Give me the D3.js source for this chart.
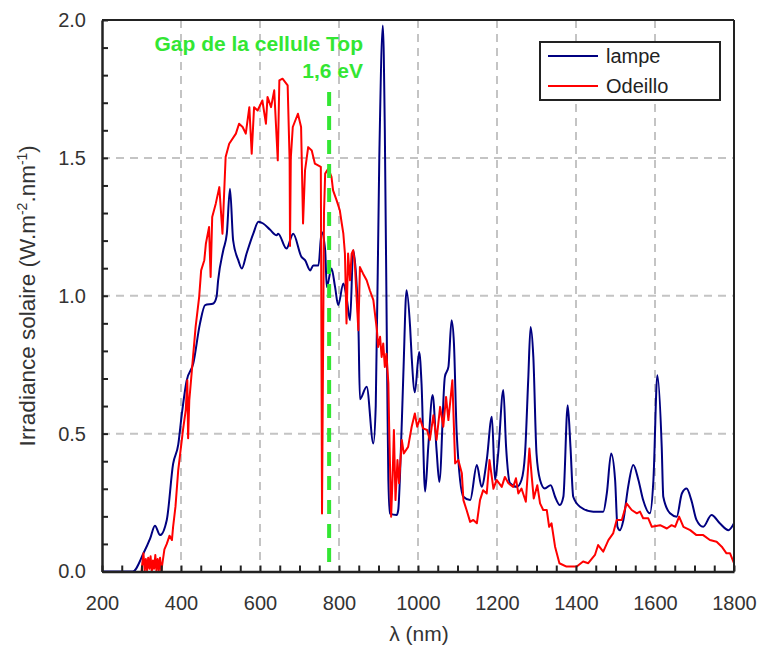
<!DOCTYPE html>
<html>
<head>
<meta charset="utf-8">
<script src="https://cdn.jsdelivr.net/npm/d3@7"></script>
<style>
  body { margin: 0; background: #fff; }
  svg text { font-family: "Liberation Sans", Arial, sans-serif; }
</style>
</head>
<body>
<svg id="chart" width="762" height="647"></svg>
<script>
// spectre de la lampe [nm, W.m-2.nm-1]
const lampe = [
  [200,0],[278,0],[305,0.066],[322,0.12],[334,0.166],[347,0.132],[364,0.187],[380,0.39],[393,0.46],
  [402,0.57],[414,0.69],[431,0.754],[448,0.899],[461,0.966],[482,0.972],[490,0.996],[494,1.056],
  [507,1.165],[516,1.225],[524,1.388],[532,1.201],[545,1.129],[554,1.099],[566,1.153],[583,1.225],
  [596,1.268],[608,1.262],[625,1.24],[642,1.219],[646,1.225],[667,1.171],[684,1.225],[705,1.141],
  [714,1.129],[727,1.092],[735,1.11],[748,1.11],[756,1.231],[765,1.165],[769,1.032],[781,1.099],
  [790,1.032],[798,0.966],[811,1.044],[819,0.996],[828,0.911],[836,1.165],[849,0.899],[853,0.625],
  [870,0.67],[887,0.464],[893,0.6],[902,1.5],[911,1.98],[916,1.6],[922,0.7],[925,0.33],[929,0.21],
  [946,0.205],[950,0.223],[954,0.331],[963,0.72],[971,1.02],[980,0.887],[984,0.778],[992,0.65],
  [1003,0.796],[1009,0.68],[1018,0.29],[1026,0.452],[1037,0.64],[1047,0.44],[1054,0.325],[1068,0.706],
  [1077,0.742],[1085,0.911],[1091,0.827],[1098,0.5],[1115,0.271],[1132,0.259],[1149,0.386],[1161,0.307],
  [1174,0.404],[1187,0.561],[1195,0.332],[1203,0.428],[1216,0.658],[1223,0.452],[1233,0.32],[1250,0.307],
  [1262,0.332],[1271,0.428],[1279,0.694],[1285,0.887],[1292,0.778],[1300,0.428],[1309,0.332],[1321,0.301],
  [1336,0.313],[1347,0.271],[1359,0.241],[1368,0.271],[1379,0.603],[1386,0.452],[1393,0.271],[1410,0.235],
  [1444,0.217],[1469,0.217],[1478,0.283],[1489,0.428],[1499,0.332],[1505,0.162],[1511,0.15],[1520,0.187],
  [1532,0.307],[1545,0.386],[1558,0.332],[1570,0.259],[1587,0.211],[1596,0.332],[1606,0.712],[1617,0.452],
  [1621,0.271],[1638,0.211],[1655,0.199],[1668,0.283],[1680,0.301],[1692,0.259],[1705,0.187],[1722,0.162],
  [1743,0.205],[1764,0.175],[1786,0.15],[1800,0.175]
];

// spectre solaire mesuré à Odeillo
const odeillo = [
  [300,0],[302,0.03],[305,0.066],[308,0],[311,0.045],[314,0.005],[317,0.05],[320,0.01],[323,0.055],
  [326,0],[329,0.04],[332,0.01],[335,0.06],[338,0],[341,0.045],[344,0.005],[347,0.05],[350,0],
  [354,0.04],[358,0.08],[364,0.1],[371,0.13],[377,0.114],[380,0.162],[386,0.235],[393,0.368],[397,0.416],
  [405,0.513],[412,0.585],[416,0.694],[418,0.483],[421,0.62],[429,0.754],[437,0.887],[446,0.996],
  [451,1.092],[459,1.129],[463,1.189],[471,1.249],[475,1.068],[479,1.286],[488,1.334],[497,1.394],
  [505,1.225],[513,1.503],[522,1.551],[539,1.588],[547,1.624],[556,1.612],[564,1.588],[573,1.684],
  [579,1.515],[585,1.684],[594,1.672],[606,1.708],[615,1.624],[619,1.721],[628,1.684],[636,1.745],
  [645,1.491],[649,1.781],[657,1.787],[670,1.763],[675,1.49],[676,1.18],[678,1.5],[683,1.612],
  [696,1.66],[704,1.612],[709,1.262],[714,1.455],[722,1.539],[731,1.527],[739,1.479],[754,1.467],
  [757,0.21],[762,1.3],[765,1.443],[773,1.461],[781,1.431],[785,1.382],[794,1.346],[802,1.31],
  [807,1.262],[811,1.225],[815,1.153],[819,0.899],[823,1.153],[828,1.056],[832,1.153],[836,1.165],
  [840,1.117],[849,0.875],[853,1.104],[861,1.08],[870,1.056],[878,1.02],[887,0.984],[891,0.935],
  [896,0.875],[899,0.814],[904,0.851],[908,0.778],[912,0.827],[916,0.742],[920,0.79],[925,0.682],
  [927,0.525],[932,0.199],[936,0.356],[939,0.513],[943,0.259],[948,0.404],[952,0.32],[959,0.477],
  [964,0.428],[975,0.452],[984,0.525],[992,0.573],[998,0.525],[1005,0.555],[1013,0.519],[1023,0.513],
  [1030,0.477],[1039,0.567],[1047,0.477],[1056,0.597],[1064,0.525],[1071,0.633],[1077,0.549],[1087,0.694],
  [1094,0.392],[1102,0.404],[1111,0.356],[1115,0.259],[1123,0.223],[1132,0.18],[1140,0.187],[1149,0.175],
  [1157,0.259],[1165,0.295],[1174,0.283],[1181,0.404],[1191,0.3],[1199,0.332],[1212,0.307],[1220,0.343],
  [1229,0.32],[1241,0.307],[1248,0.338],[1254,0.283],[1262,0.301],[1273,0.253],[1282,0.446],[1288,0.343],
  [1293,0.265],[1302,0.313],[1309,0.247],[1317,0.223],[1326,0.223],[1332,0.162],[1338,0.175],[1347,0.09],
  [1358,0.03],[1376,0.018],[1402,0.018],[1418,0.036],[1431,0.03],[1448,0.06],[1456,0.096],[1469,0.072],
  [1482,0.114],[1494,0.138],[1503,0.187],[1516,0.187],[1528,0.247],[1541,0.223],[1554,0.211],[1562,0.217],
  [1570,0.193],[1583,0.193],[1592,0.162],[1613,0.168],[1630,0.156],[1642,0.168],[1651,0.162],[1661,0.199],
  [1672,0.162],[1689,0.15],[1705,0.132],[1722,0.132],[1739,0.114],[1756,0.108],[1769,0.09],[1781,0.066],
  [1790,0.066],[1800,0.03]
];

const xTicks = d3.range(200, 1801, 50);
const xLabels = [200, 400, 600, 800, 1000, 1200, 1400, 1600, 1800];
const yTicks = d3.range(0, 2.001, 0.1);
const yLabels = [0, 0.5, 1.0, 1.5, 2.0];
const gapNm = 775; // 1,6 eV
const series = ["lampe", "Odeillo"];
const colors = ["#000080", "#ff0000"];

const svg = d3.select("#chart");
const m = { left: 102, right: 734, top: 20, bottom: 571.5 };
const x = d3.scaleLinear().domain([200, 1800]).range([m.left, m.right]);
const y = d3.scaleLinear().domain([0, 2]).range([m.bottom, m.top]);

// grille
svg.append("g").selectAll("line")
  .data(xLabels.filter(d => d > 200 && d < 1800))
  .join("line")
    .attr("x1", d => x(d)).attr("x2", d => x(d))
    .attr("y1", m.top).attr("y2", m.bottom)
    .attr("stroke", "#c4c4c4").attr("stroke-width", 2).attr("stroke-dasharray", "8,6");
svg.append("g").selectAll("line")
  .data(yLabels.filter(d => d > 0 && d < 2))
  .join("line")
    .attr("x1", m.left).attr("x2", m.right)
    .attr("y1", d => y(d)).attr("y2", d => y(d))
    .attr("stroke", "#c4c4c4").attr("stroke-width", 2).attr("stroke-dasharray", "8,6");

// courbes
svg.append("clipPath").attr("id", "clip").append("rect")
  .attr("x", m.left).attr("y", m.top).attr("width", m.right - m.left).attr("height", m.bottom - m.top);
const lineSmooth = d3.line().curve(d3.curveMonotoneX).x(d => x(d[0])).y(d => y(d[1]));
const line = d3.line().x(d => x(d[0])).y(d => y(d[1]));
const plot = svg.append("g").attr("clip-path", "url(#clip)");
plot.append("path").datum(lampe).attr("d", lineSmooth)
  .attr("fill", "none").attr("stroke", colors[0]).attr("stroke-width", 2).attr("stroke-linejoin", "round");
plot.append("path").datum(odeillo).attr("d", line)
  .attr("fill", "none").attr("stroke", colors[1]).attr("stroke-width", 2).attr("stroke-linejoin", "round");

// gap de la cellule top
svg.append("line")
  .attr("x1", x(gapNm)).attr("x2", x(gapNm))
  .attr("y1", 92).attr("y2", m.bottom)
  .attr("stroke", "#33e633").attr("stroke-width", 4).attr("stroke-dasharray", "14,10");
svg.append("text").attr("x", 363).attr("y", 51).attr("text-anchor", "end")
  .attr("font-size", 21).attr("font-weight", "bold").attr("fill", "#33e633")
  .text("Gap de la cellule Top");
svg.append("text").attr("x", 363).attr("y", 78).attr("text-anchor", "end")
  .attr("font-size", 21).attr("font-weight", "bold").attr("fill", "#33e633")
  .text("1,6 eV");

// axes
const xAxis = d3.axisBottom(x).tickValues(xTicks).tickSizeInner(-6).tickSizeOuter(0).tickPadding(24)
  .tickFormat(d => xLabels.includes(d) ? d : "");
const gx = svg.append("g").attr("transform", `translate(0,${m.bottom})`).call(xAxis);
const yAxis = d3.axisLeft(y).tickValues(yTicks).tickSizeInner(-6).tickSizeOuter(0).tickPadding(16)
  .tickFormat(d => yLabels.some(v => Math.abs(v - d) < 1e-6) ? d3.format(".1f")(d) : "");
const gy = svg.append("g").attr("transform", `translate(${m.left},0)`).call(yAxis);
[gx, gy].forEach(g => {
  g.select(".domain").attr("stroke", "#222").attr("stroke-width", 2.5);
  g.selectAll(".tick line").attr("stroke", "#222").attr("stroke-width", 2);
  g.selectAll(".tick text").attr("font-size", 20).attr("fill", "#333")
    .attr("font-family", "Liberation Sans, Arial, sans-serif");
});
// bord haut et droit
svg.append("line").attr("x1", m.left).attr("x2", m.right).attr("y1", m.top).attr("y2", m.top)
  .attr("stroke", "#222").attr("stroke-width", 2);
svg.append("line").attr("x1", m.right).attr("x2", m.right).attr("y1", m.top).attr("y2", m.bottom)
  .attr("stroke", "#222").attr("stroke-width", 2);

// titres des axes
svg.append("text").attr("x", x(1000) + 1).attr("y", 641).attr("text-anchor", "middle")
  .attr("font-size", 21).attr("fill", "#333").text("λ (nm)");
const yt = svg.append("text").attr("transform", `translate(35,${(m.top + m.bottom) / 2}) rotate(-90)`)
  .attr("text-anchor", "middle").attr("font-size", 22.5).attr("fill", "#333");
yt.append("tspan").text("Irradiance solaire (W.m");
yt.append("tspan").attr("font-size", 14).attr("dy", -8).text("-2");
yt.append("tspan").attr("dy", 8).text(".nm");
yt.append("tspan").attr("font-size", 14).attr("dy", -8).text("-1");
yt.append("tspan").attr("dy", 8).text(")");

// légende
const lg = svg.append("g");
lg.append("rect").attr("x", 540).attr("y", 42).attr("width", 180).attr("height", 58)
  .attr("fill", "#fff").attr("stroke", "#222").attr("stroke-width", 2);
series.forEach((s, i) => {
  const ly = 56 + i * 30;
  lg.append("line").attr("x1", 548).attr("x2", 598).attr("y1", ly).attr("y2", ly)
    .attr("stroke", colors[i]).attr("stroke-width", 2);
  lg.append("text").attr("x", 606).attr("y", ly + 7).attr("font-size", 20).attr("fill", "#222").text(s);
});
</script>
</body>
</html>
